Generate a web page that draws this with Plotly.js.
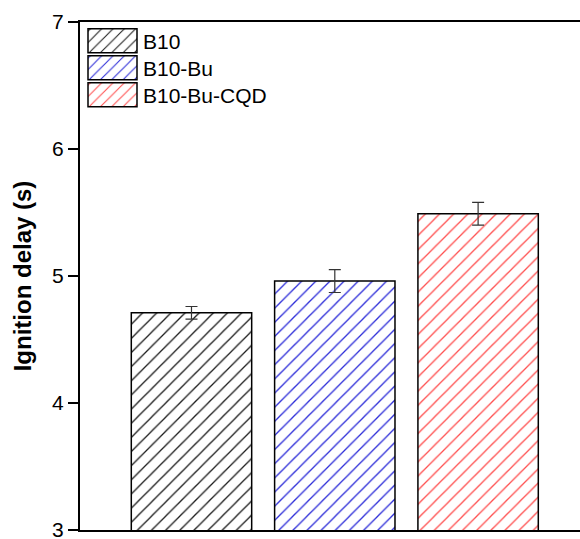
<!DOCTYPE html>
<html>
<head>
<meta charset="utf-8">
<script src="https://cdn.plot.ly/plotly-3.0.1.min.js"></script>
<style>
  html, body { margin: 0; padding: 0; background: #fff; }
  #chart { width: 580px; height: 539px; }
</style>
</head>
<body>
<div id="chart"></div>
<script>
// Fuel blends and their measured ignition delays (s) with error half-widths
const fuels = ['B10', 'B10-Bu', 'B10-Bu-CQD'];
const positions = [1, 2, 3];
const ignitionDelay = [4.71, 4.96, 5.49];
const delayError = [0.05, 0.09, 0.09];
const hatchColors = ['#1a1a1a', '#2a2ad8', '#ff4d4d'];
const yTicks = [3, 4, 5, 6, 7];

const FONT = 'Arial, "Liberation Sans", sans-serif';

const traces = fuels.map((name, i) => ({
  type: 'bar',
  name: name,
  x: [positions[i]],
  y: [ignitionDelay[i]],
  width: 0.84,
  marker: {
    color: '#ffffff',
    line: { color: '#000000', width: 1.5 },
    pattern: { shape: '/', fgcolor: hatchColors[i], bgcolor: '#ffffff', size: 10, solidity: 0.13 }
  },
  error_y: {
    type: 'data',
    array: [delayError[i]],
    visible: true,
    color: '#333333',
    thickness: 1.2,
    width: 6
  },
  hoverinfo: 'skip'
}));

const layout = {
  width: 580,
  height: 539,
  margin: { l: 80, r: 0, t: 22, b: 9 },
  paper_bgcolor: '#ffffff',
  plot_bgcolor: '#ffffff',
  barmode: 'overlay',
  showlegend: true,
  legend: {
    x: 0.004, y: 1.0, xanchor: 'left', yanchor: 'top',
    bgcolor: 'rgba(0,0,0,0)',
    font: { family: FONT, size: 21, color: '#000' },
    tracegroupgap: 0,
    itemwidth: 51
  },
  xaxis: {
    range: [0.222, 3.711],
    showticklabels: false,
    ticks: '',
    showgrid: false,
    zeroline: false,
    showline: true,
    linecolor: '#000',
    linewidth: 2,
    mirror: true
  },
  yaxis: {
    range: [3, 7],
    tickvals: yTicks,
    ticks: 'outside',
    ticklen: 10,
    tickwidth: 2,
    tickcolor: '#000',
    ticklabeloverflow: 'allow',
    showgrid: false,
    zeroline: false,
    showline: true,
    linecolor: '#000',
    linewidth: 2,
    mirror: false,
    tickfont: { family: FONT, size: 21, color: '#000' },
    title: {
      text: '<b>Ignition delay (s)</b>',
      font: { family: FONT, size: 24, color: '#000' },
      standoff: 14
    }
  }
};

// Widen the legend swatches into hatched boxes and stack entries 27px apart
const LEGEND_ROW = 27;
function styleLegend(gd) {
  gd.querySelectorAll('.legend .legendpoints path').forEach(p => {
    p.setAttribute('d', 'M24.5,12H-24.5V-12H24.5Z');
    p.style.strokeWidth = '1.5px';
    p.style.stroke = '#000';
  });
  const rows = gd.querySelectorAll('.legend g.traces');
  if (!rows.length) return;
  const m = /translate\(\s*([-\d.]+)[ ,]+([-\d.]+)\s*\)/.exec(rows[0].getAttribute('transform') || '');
  if (!m) return;
  const x0 = parseFloat(m[1]);
  const y0 = parseFloat(m[2]) - 1.5;
  rows.forEach((g, i) => {
    g.setAttribute('transform', `translate(${x0},${y0 + i * LEGEND_ROW})`);
  });
}

Plotly.newPlot('chart', traces, layout, { staticPlot: true, displayModeBar: false }).then(gd => {
  styleLegend(gd);
  gd.on('plotly_afterplot', () => styleLegend(gd));
});
</script>
</body>
</html>
